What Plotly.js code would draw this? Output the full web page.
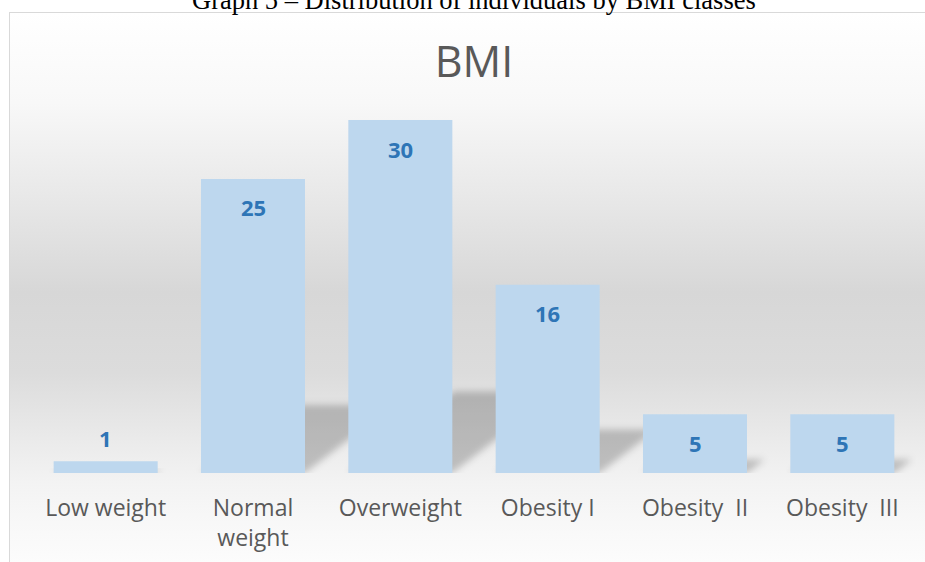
<!DOCTYPE html>
<html>
<head>
<meta charset="utf-8">
<script src="https://cdn.plot.ly/plotly-3.0.1.min.js"></script>
<style>
  html, body { margin: 0; padding: 0; background: #ffffff; overflow: hidden; }
  #wrap { position: relative; width: 925px; height: 562px; }
  #frame {
    position: absolute; left: 9px; top: 12px; width: 940px; height: 560px;
    border: 1px solid #d9d9d9; box-sizing: border-box;
    background: linear-gradient(to bottom,
      #ffffff 0px, #f8f8f8 90px, #e7e7e7 190px, #d7d7d7 280px,
      #dcdcdc 360px, #ebebeb 430px, #f3f3f3 470px, #f8f8f8 510px, #fcfcfc 550px);
  }
  #chart { position: absolute; left: 0; top: 0; width: 925px; height: 562px; }
</style>
</head>
<body>
<div id="wrap">
  <div id="frame"></div>
  <div id="chart"></div>
</div>
<script>
// BMI classes and number of individuals in each
const categories = ['Low weight', 'Normal<br>weight', 'Overweight', 'Obesity I', 'Obesity\u00a0 II', 'Obesity\u00a0 III'];
const counts = [1, 25, 30, 16, 5, 5];

const chartTitle = 'BMI';
const caption = 'Graph 5 \u2013 Distribution of individuals by BMI classes';

const barColor = '#BDD7EE';
const labelColor = '#2E75B6';
const textGrey = '#595959';
const yMax = 34;
const bargap = 0.294;

// value labels: inside near the top of tall bars, just above very short ones
const valueLabels = counts.map((v, i) => ({
  x: categories[i], y: v, xref: 'x', yref: 'y',
  text: String(v), showarrow: false, yanchor: 'middle',
  yshift: v < 3 ? 23.5 : -28.5,
  font: { family: 'Open Sans', size: 22, color: labelColor, weight: 700 }
}));

// soft floor shadows cast up and to the right of each bar
const half = (1 - bargap) / 2;
const shadows = counts.map((v, i) => {
  const dx = 0.024 * v, dy = 0.231 * v;
  return {
    type: 'path', xref: 'x', yref: 'y', layer: 'below',
    path: `M ${i - half} 0 L ${i + half} 0 L ${i + half + dx} ${dy} L ${i - half + dx} ${dy} Z`,
    fillcolor: 'rgba(0,0,0,0.21)', line: { width: 0 }
  };
});

const trace = {
  type: 'bar', x: categories, y: counts,
  marker: { color: barColor, line: { width: 0 } },
  hoverinfo: 'skip'
};

const layout = {
  width: 925, height: 562, autosize: false,
  margin: { l: 32, r: 9, t: 73, b: 89, pad: 0 },
  paper_bgcolor: 'rgba(0,0,0,0)', plot_bgcolor: 'rgba(0,0,0,0)',
  bargap: bargap, showlegend: false,
  title: {
    text: chartTitle, x: 0.5, xref: 'paper', xanchor: 'center',
    y: 1 - 62 / 562, yref: 'container', yanchor: 'middle',
    font: { family: 'Open Sans', size: 43, color: textGrey }
  },
  xaxis: {
    type: 'category', showgrid: false, zeroline: false, showline: false,
    ticks: '', tickangle: 0, automargin: false, ticklabelstandoff: 19,
    tickfont: { family: 'Open Sans', size: 23, color: textGrey }
  },
  yaxis: { range: [0, yMax], visible: false, showgrid: false, zeroline: false, fixedrange: true },
  shapes: shadows,
  annotations: valueLabels.concat([{
    text: caption, xref: 'paper', yref: 'paper', x: 0.5, y: 1,
    xanchor: 'center', yanchor: 'bottom', yshift: 56, showarrow: false,
    font: { family: 'Liberation Serif', size: 26.5, color: '#000000' }
  }])
};

Plotly.newPlot('chart', [trace], layout, { staticPlot: true, displayModeBar: false }).then(gd => {
  // blur the shadow shapes with an SVG filter
  const svg = gd.querySelector('svg.main-svg');
  const ns = 'http://www.w3.org/2000/svg';
  let defs = svg.querySelector('defs');
  if (!defs) { defs = document.createElementNS(ns, 'defs'); svg.insertBefore(defs, svg.firstChild); }
  const filter = document.createElementNS(ns, 'filter');
  filter.setAttribute('id', 'shadowBlur');
  filter.setAttribute('x', '-50%'); filter.setAttribute('y', '-50%');
  filter.setAttribute('width', '200%'); filter.setAttribute('height', '200%');
  const blur = document.createElementNS(ns, 'feGaussianBlur');
  blur.setAttribute('stdDeviation', '3.5');
  filter.appendChild(blur);
  defs.appendChild(filter);
  gd.querySelectorAll('.shapelayer path').forEach(p => {
    p.setAttribute('filter', 'url(#shadowBlur)');
    p.style.filter = 'url(#shadowBlur)';
  });
});
</script>
</body>
</html>
